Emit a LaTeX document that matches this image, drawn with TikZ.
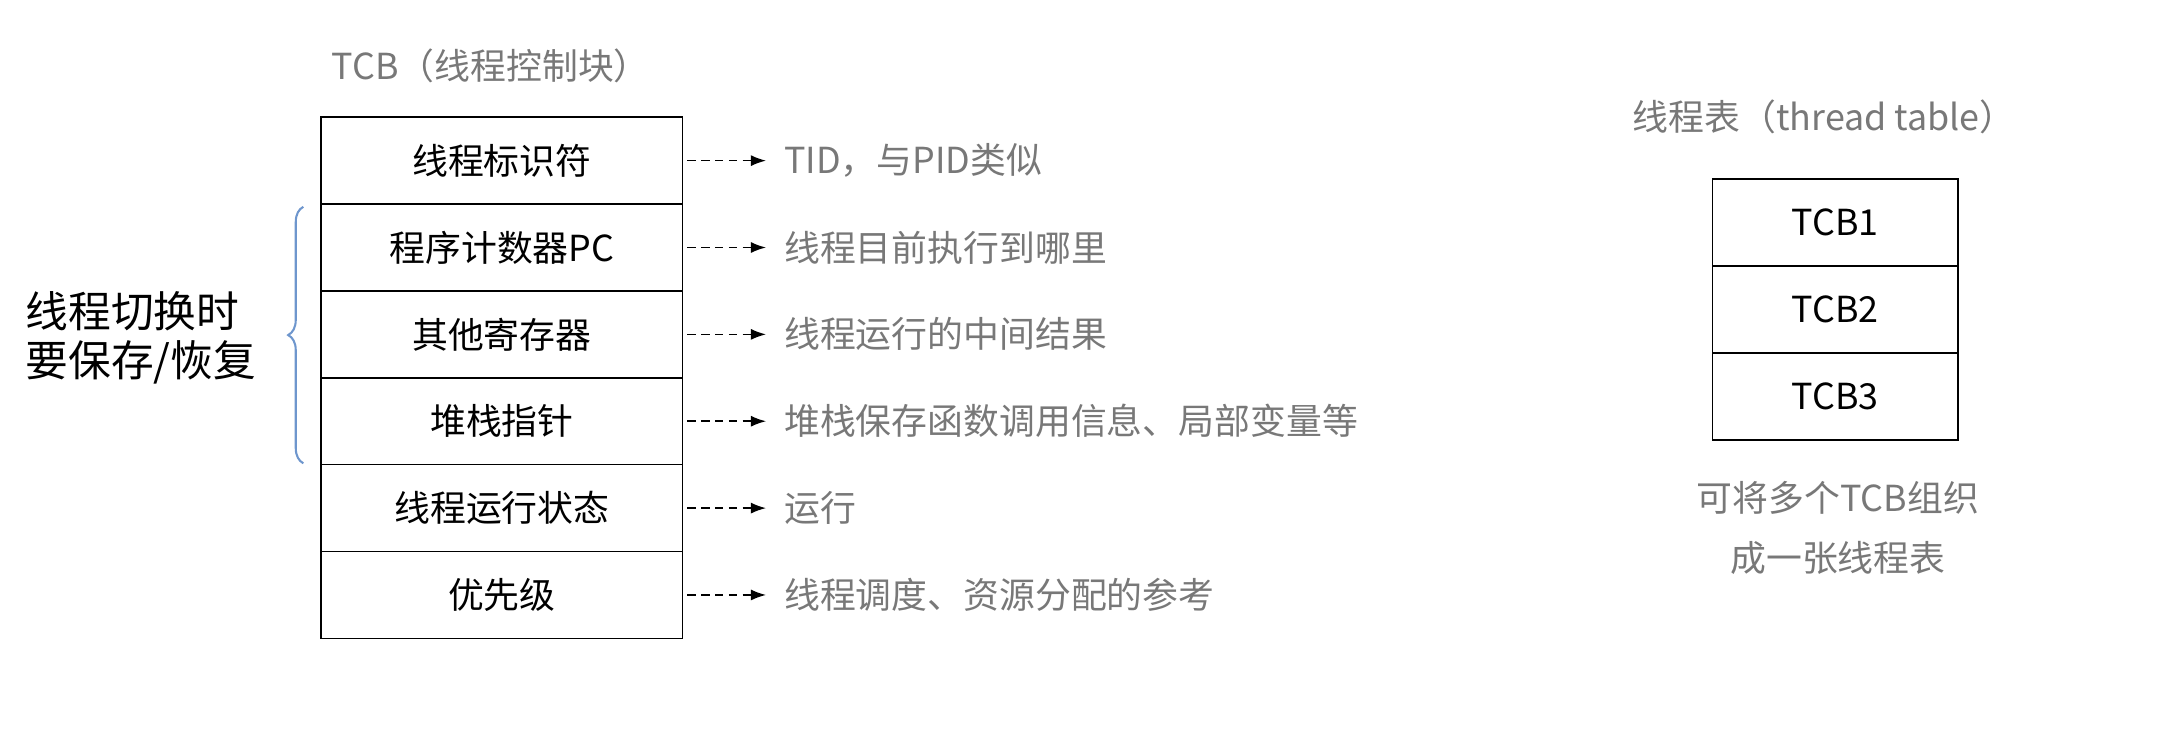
\documentclass[tikz,border=0pt]{standalone}
\usepackage{fontspec}
\setmainfont{Noto Sans CJK SC}
\usetikzlibrary{decorations.pathreplacing,arrows.meta}
\definecolor{gr}{RGB}{120,120,120}
\definecolor{br}{RGB}{110,150,205}
\begin{document}
\begin{tikzpicture}[x=1pt,y=-1pt,
  fs/.style={font=\fontsize{26}{30}\selectfont},
  cell/.style={draw,line width=1.2pt,minimum width=262pt,minimum height=63pt,inner sep=0,fs},
  rcell/.style={draw,line width=1.2pt,minimum width=178pt,minimum height=63pt,inner sep=0,fs},
  lab/.style={anchor=west,text=gr,fs,inner sep=0},
  arr/.style={dash pattern=on 6pt off 4pt,line width=1.2pt,-{Latex[length=11pt,width=8pt]}}]
\useasboundingbox (0,0) rectangle (1568,535);
\node[text=gr,fs] (t) at (356,48) {TCB（线程控制块）};
\foreach \n/\txt/\l [count=\i] in {a/线程标识符/{TID，与PID类似},b/程序计数器PC/线程目前执行到哪里,c/其他寄存器/线程运行的中间结果,d/堆栈指针/堆栈保存函数调用信息、局部变量等,e/线程运行状态/运行/就绪/阻塞,f/优先级/线程调度、资源分配的参考}{
  \node[cell] (\n) at (364,{85+63*(\i-0.5)}) {\txt};
  \coordinate (\n e) at ([xshift=60pt]\n.east);
  \draw[arr] ([xshift=3pt]\n.east) -- (\n e);
  \node[lab] (\n l) at ([xshift=13pt]\n e) {\l};
}
\draw[br,line width=1.5pt,decorate,decoration={brace,amplitude=11pt}] (220,336) -- (220,150);
\node[align=left,font=\fontsize{31}{36}\selectfont,anchor=east,inner sep=0] (s) at (186,245) {线程切换时\\要保存/恢复};
\node[text=gr,fs] (rt) at (1323,85) {线程表（thread table）};
\foreach \n/\txt [count=\i] in {p/TCB1,q/TCB2,r/TCB3}{
  \node[rcell] (\n) at (1331,{130+63*(\i-0.5)}) {\txt};
}
\node[text=gr,align=center,font=\fontsize{26}{43}\selectfont] (c) at (1333,383) {可将多个TCB组织\\成一张线程表};
\end{tikzpicture}
\end{document}
